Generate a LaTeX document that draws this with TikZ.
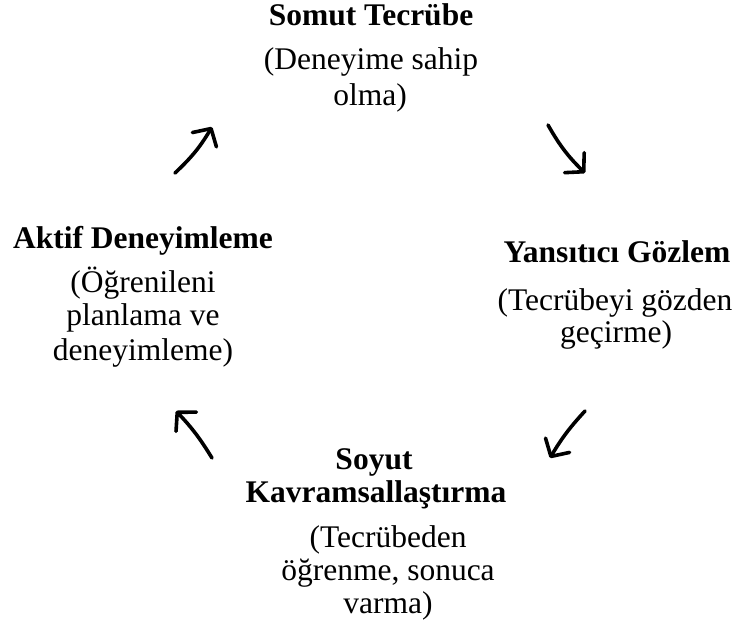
\documentclass[tikz,border=0pt]{standalone}
\usepackage{fontspec}
\setmainfont{Liberation Serif}
\usetikzlibrary{arrows.meta}
\tikzset{
  head/.style={font=\fontsize{31.5}{33}\selectfont\bfseries, inner sep=0pt, anchor=base},
  body/.style={font=\fontsize{31.5}{33}\selectfont, inner sep=0pt, anchor=base},
  cyclearrow/.style={line width=3.6pt, line cap=round,
    -{Straight Barb[length=13pt,width=28pt,line width=3.6pt,round]}},
}
\begin{document}
\begin{tikzpicture}[x=1pt,y=-1pt]
\useasboundingbox (0,0) rectangle (740,623);

% Somut Tecrübe
\node[head] (st)  at (371,26)  {Somut Tecrübe};
\node[body] (st1) at (371,70)  {(Deneyime sahip};
\node[body] (st2) at (370,106) {olma)};

% Yansıtıcı Gözlem
\node[head] (yg)  at (617,262) {Yansıtıcı Gözlem};
\node[body] (yg1) at (615,311) {(Tecrübeyi gözden};
\node[body] (yg2) at (616,342) {geçirme)};

% Soyut Kavramsallaştırma
\node[head] (sk)  at (374,469) {Soyut};
\node[head] (sk1) at (376,502) {Kavramsallaştırma};
\node[body] (sk2) at (388,547) {(Tecrübeden};
\node[body] (sk3) at (388,580) {öğrenme, sonuca};
\node[body] (sk4) at (388,613) {varma)};

% Aktif Deneyimleme
\node[head] (ad)  at (143,249) {Aktif Deneyimleme};
\node[body] (ad1) at (143,293) {(Öğrenileni};
\node[body] (ad2) at (143,325) {planlama ve};
\node[body] (ad3) at (143,360) {deneyimleme)};

% cycle arrows
\coordinate (a1s) at (175,173); \coordinate (a1e) at (212,127);
\coordinate (a2s) at (548,125); \coordinate (a2e) at (585,173);
\coordinate (a3s) at (585,411); \coordinate (a3e) at (550,458);
\coordinate (a4s) at (212,458); \coordinate (a4e) at (176,411);
\draw[cyclearrow] (a1s) to[bend right=8] (a1e);
\draw[cyclearrow] (a2s) to[bend right=8] (a2e);
\draw[cyclearrow] (a3s) to[bend right=6] (a3e);
\draw[cyclearrow] (a4s) to[bend right=6] (a4e);
\end{tikzpicture}
\end{document}
